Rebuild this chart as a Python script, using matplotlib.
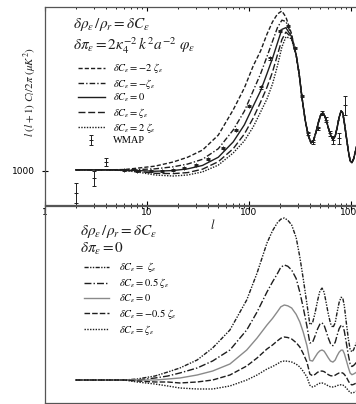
import numpy as np
import matplotlib
matplotlib.use("Agg")
from matplotlib import pyplot as plt

plt.rcParams['mathtext.fontset'] = 'stix'
plt.rcParams['font.family'] = ['Liberation Serif', 'DejaVu Serif']

# ---- top panel: delta pi = 2 k^-2 k^2 a^-2 phi ----
lTop = [2, 3, 4, 6, 8, 12, 18, 25, 35, 50, 70, 90, 110, 130, 150, 170, 190, 210, 230, 260,
        290, 310, 330, 355, 380, 405, 430, 455, 480, 505, 530, 555, 580, 605, 630, 665, 700,
        730, 765, 800, 830, 860, 900, 940, 980, 1020, 1060, 1100, 1140]
tail = [4400, 3850, 3170, 2500, 2050, 1820, 1900, 2150, 2430, 2640, 2700, 2600, 2420, 2220, 2060,
        1920, 2020, 2260, 2570, 2760, 2700, 2420, 2000, 1600, 1300, 1240, 1350, 1550, 1740]
topM2 = [1030, 1030, 1030, 1040, 1080, 1140, 1260, 1400, 1610, 2050, 2790, 3430, 4080, 4520, 5010,
         5370, 5600, 5690, 5510, 5040] + tail
topM1 = [1030, 1030, 1030, 1030, 1040, 1060, 1120, 1200, 1340, 1650, 2200, 2750, 3350, 3850, 4350,
         4800, 5200, 5420, 5380, 5000] + tail
top0 = [1030, 1030, 1030, 1025, 1010, 990, 1010, 1060, 1160, 1400, 1850, 2350, 2900, 3350, 3850,
        4300, 4750, 5150, 5200, 4950] + tail
topP1 = [1030, 1030, 1030, 1015, 990, 930, 920, 950, 1050, 1270, 1650, 2080, 2550, 3020, 3450,
         3900, 4400, 4850, 5070, 4920] + tail
topP2 = [1030, 1030, 1030, 1010, 970, 880, 850, 880, 970, 1170, 1525, 1880, 2290, 2730, 3110,
         3550, 4080, 4630, 4930, 4880] + tail

wmapL = [2, 3, 4, 6, 8, 11, 14, 18, 23, 30, 40, 55, 75, 100, 130, 160, 200, 240, 280, 330,
         380, 420, 470, 520, 570, 620, 670, 760, 870]
wmapV = [352, 790, 1260, 1030, 1000, 1000, 1000, 1030, 1080, 1180, 1350, 1680, 2200, 2900, 3450,
         4300, 5100, 5250, 4600, 3200, 2100, 1850, 2250, 2700, 2500, 2100, 1900, 1950, 2930]
wmapE = [300, 220, 130, 30, 30, 30, 30, 30, 30, 30, 30, 30, 30, 40, 40, 40, 40, 40, 40, 40,
         40, 50, 50, 60, 70, 80, 120, 170, 280]

# ---- bottom panel: delta pi = 0 ----
lBot = [2, 3, 4, 6, 8, 12, 16, 21, 31, 44, 65, 95, 120, 150, 170, 189, 205, 222, 240, 262,
        290, 315, 340, 370, 395, 420, 445, 470, 495, 520, 545, 570, 600, 630, 665, 700, 730,
        765, 800, 830, 860, 900, 940, 980, 1020, 1060, 1100, 1140]
botP1 = [674, 674, 674, 674, 704, 792, 909, 1026, 1261, 1613, 2141, 3021, 3812, 4692, 5050, 5279,
         5390, 5425, 5360, 5220, 4850, 4280, 3650, 2900, 2300, 2350, 2650, 3000, 3280, 3370, 3250,
         2950, 2600, 2330, 2210, 2350, 2650, 2950, 3100, 3080, 2850, 2350, 1900, 1570, 1500, 1560,
         1680, 1790]
botP05 = [674, 674, 674, 674, 674, 733, 792, 880, 1026, 1232, 1554, 2141, 2669, 3255, 3550, 3783,
          3980, 4047, 4010, 3900, 3650, 3250, 2800, 2250, 1760, 1780, 1970, 2170, 2310, 2350, 2280,
          2110, 1900, 1740, 1680, 1780, 1980, 2180, 2280, 2270, 2110, 1760, 1420, 1150, 1070, 1100,
          1150, 1210]
bot0 = [674, 674, 674, 674, 674, 674, 704, 733, 821, 938, 1144, 1554, 1906, 2287, 2480, 2669,
        2820, 2874, 2850, 2786, 2600, 2375, 2080, 1680, 1250, 1230, 1350, 1460, 1530, 1554, 1520,
        1430, 1320, 1230, 1200, 1260, 1380, 1490, 1550, 1550, 1450, 1250, 1050, 880, 830, 850,
        880, 910]
botM05 = [674, 674, 674, 674, 645, 616, 616, 587, 616, 674, 821, 1085, 1320, 1584, 1700, 1818,
          1900, 1935, 1920, 1877, 1770, 1642, 1450, 1200, 850, 800, 840, 900, 930, 938, 920,
          880, 830, 800, 792, 815, 850, 880, 890, 880, 840, 760, 650, 560, 530, 545, 570, 590]
botM1 = [674, 674, 674, 674, 616, 557, 499, 440, 411, 411, 499, 674, 821, 997, 1070, 1144,
         1210, 1232, 1225, 1202, 1140, 1056, 930, 762, 520, 470, 500, 550, 580, 587, 570,
         540, 500, 475, 469, 485, 510, 528, 535, 528, 500, 440, 370, 310, 293, 305, 330, 352]

topLabels = [r'$\delta C_\varepsilon = -2\ \zeta_\varepsilon$', r'$\delta C_\varepsilon = -\zeta_\varepsilon$',
             r'$\delta C_\varepsilon = 0$', r'$\delta C_\varepsilon = \zeta_\varepsilon$',
             r'$\delta C_\varepsilon = 2\ \zeta_\varepsilon$']
botLabels = [r'$\delta C_\varepsilon = \ \zeta_\varepsilon$', r'$\delta C_\varepsilon = 0.5\ \zeta_\varepsilon$',
             r'$\delta C_\varepsilon = 0$', r'$\delta C_\varepsilon = -0.5\ \zeta_\varepsilon$',
             r'$\delta C_\varepsilon = \zeta_\varepsilon$']

ink = '#1e1e1e'
topStyles = [(0, (3, 1.5)), (0, (4, 1.5, 1, 1.5)), '-', (0, (5, 2)), (0, (1, 1))]
botStyles = [(0, (3, 1, 1, 1, 1, 1)), (0, (5, 1.5, 1, 1.5)), '-', (0, (4, 1.5)), (0, (1, 1))]
botColors = [ink, ink, '#8a8a8a', ink, ink]

W, H = 356, 404
fig = plt.figure(figsize=(W / 100, H / 100), dpi=100)
ax1 = fig.add_axes([45 / W, 1 - 205 / H, 325 / W, 198 / H])
ax2 = fig.add_axes([45 / W, 1 - 403 / H, 325 / W, 197 / H])
ax2.patch.set_alpha(0)

xmax = 10 ** (325 / 102)

# top
handles = []
for ys, st in zip([topM2, topM1, top0, topP1, topP2], topStyles):
    h, = ax1.plot(lTop, ys, color=ink, lw=1.0, linestyle=st)
    handles.append(h)
eb = ax1.errorbar(wmapL, wmapV, yerr=wmapE, fmt='+', ms=2.5, mew=0.7, color=ink,
                  elinewidth=0.7, capsize=1.2, capthick=0.7)
handles.append(eb)
ax1.set_xscale('log')
ax1.set_xlim(1, xmax)
ax1.set_ylim(0, 5806)
ax1.set_yticks([1000])
ax1.set_yticklabels(['1000'], fontsize=6.5, family='DejaVu Sans')
ax1.set_xticks([1, 10, 100, 1000])
ax1.set_xticklabels(['1', '10', '100', '1000'], fontsize=6.5, family='DejaVu Sans')
ax1.tick_params(axis='x', which='both', direction='in', top=True, pad=2.5, length=3)
ax1.tick_params(axis='x', which='minor', length=1.5)
ax1.tick_params(axis='y', direction='inout', length=4, pad=5)
ax1.spines['right'].set_visible(False)
for s in ax1.spines.values():
    s.set_color('#555555')
    s.set_linewidth(0.9)

ax1.text(0.085, 0.91, r'$\delta\rho_\varepsilon\,/\rho_r = \delta C_\varepsilon$', transform=ax1.transAxes,
         fontsize=11, va='center', color=ink)
ax1.text(0.085, 0.805, r'$\delta\pi_\varepsilon = 2\kappa_4^{-2}\,k^2 a^{-2}\ \varphi_\varepsilon$',
         transform=ax1.transAxes, fontsize=11, va='center', color=ink)
ax1.legend(handles, topLabels + ['WMAP'], loc='upper left', bbox_to_anchor=(0.1, 0.725),
           frameon=False, fontsize=7.5, handlelength=2.6, handletextpad=0.8, labelspacing=0.12,
           borderpad=0, borderaxespad=0)

# bottom
for ys, st, c, lab in zip([botP1, botP05, bot0, botM05, botM1], botStyles, botColors, botLabels):
    ax2.plot(lBot, ys, color=c, lw=1.0, linestyle=st, label=lab)
ax2.set_xscale('log')
ax2.set_xlim(1, xmax)
ax2.set_ylim(0, 5777)
ax2.set_yticks([])
ax2.set_xticks([1, 10, 100, 1000])
ax2.set_xticklabels([])
ax2.tick_params(axis='x', which='both', direction='in', top=True, bottom=False, length=3)
ax2.tick_params(axis='x', which='minor', length=1.5)
ax2.spines['right'].set_visible(False)
for s in ax2.spines.values():
    s.set_color('#555555')
    s.set_linewidth(0.9)

ax2.text(0.108, 0.87, r'$\delta\rho_\varepsilon\,/\rho_r = \delta C_\varepsilon$', transform=ax2.transAxes,
         fontsize=11, va='center', color=ink)
ax2.text(0.108, 0.78, r'$\delta\pi_\varepsilon = 0$', transform=ax2.transAxes,
         fontsize=11, va='center', color=ink)
ax2.legend(loc='upper left', bbox_to_anchor=(0.12, 0.725), frameon=False, fontsize=7.5,
           handlelength=2.4, handletextpad=1.0, labelspacing=0.2, borderpad=0, borderaxespad=0)

fig.text(30 / W, 1 - 92 / H, r'$l\ (l+1)\ C_l/2\pi\ (\mu K^2)$', rotation=90,
         ha='center', va='center', fontsize=8, color=ink)
fig.text(213 / W, 1 - 225 / H, r'$l$', ha='center', va='center', fontsize=9, color=ink)

fig.savefig('out.png', dpi=100)
